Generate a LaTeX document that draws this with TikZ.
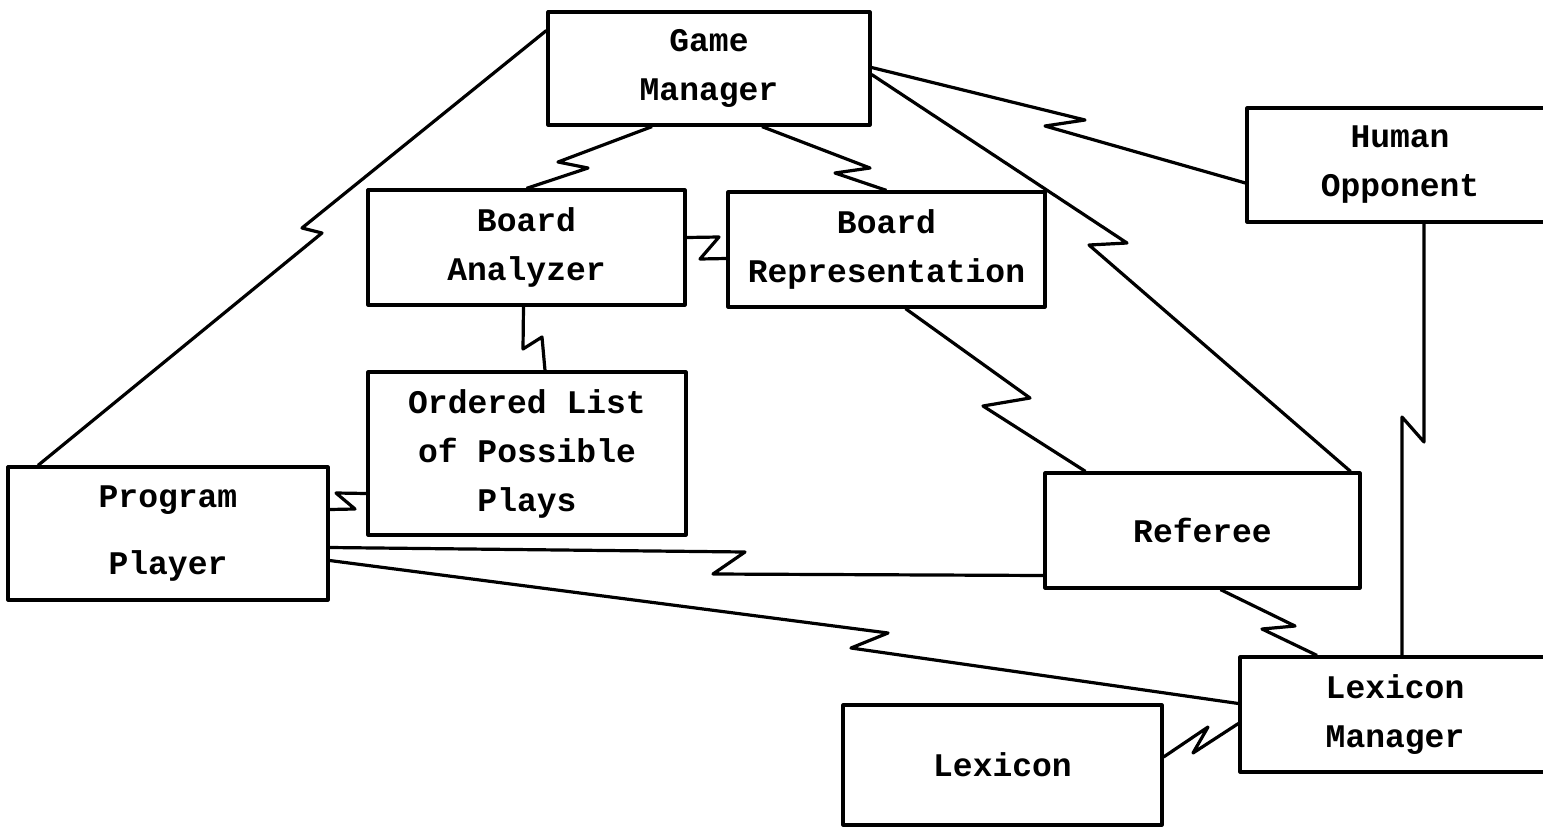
\documentclass[tikz,border=0pt]{standalone}
\usepackage{fontspec}
\newfontfamily\typer{Liberation Mono}
\begin{document}
\begin{tikzpicture}[x=1pt,y=-1pt,line width=3.2pt,line join=round,
		box/.style={draw,align=center,inner sep=0pt,font=\typer\bfseries\fontsize{33}{49}\selectfont}]
			\useasboundingbox (0,0) rectangle (1543,830);
			\node[box,minimum width=322pt,minimum height=113pt] (gm) at (709,68.5) {Game\\Manager};
			\node[box,minimum width=317pt,minimum height=115pt] (ba) at (526.5,247.5) {Board\\Analyzer};
			\node[box,minimum width=317pt,minimum height=115pt] (br) at (886.5,249.5) {Board\\Representation};
			\node[box,minimum width=318pt,minimum height=163pt] (ol) at (527,453.5) {Ordered List\\of Possible\\Plays};
			\node[box,minimum width=320pt,minimum height=133pt] (pp) at (168,533.5) {Program\\[18pt]Player};
			\node[box,minimum width=315pt,minimum height=115pt] (rf) at (1202.5,530.5) {Referee};
			\node[box,minimum width=306pt,minimum height=114pt] (ho) at (1400,165) {Human\\Opponent};
			\node[box,minimum width=310pt,minimum height=115pt] (lm) at (1395,714.5) {Lexicon\\Manager};
			\node[box,minimum width=319pt,minimum height=120pt] (lx) at (1002.5,765) {Lexicon};
			\draw ([xshift=-57pt]gm.south)--(558,162)--(588,168)--(ba.north);
			\draw ([xshift=53pt]gm.south)--(870,168)--(835,173)--(br.north);
			\draw ([yshift=10pt]ba.east)--(719,237)--(700,259)--([yshift=-9pt]br.west);
			\draw ([xshift=-3pt]ba.south)--(523,349)--(542,337)--([xshift=18pt]ol.north);
			\draw ([yshift=24pt]pp.east)--(355,509)--(336,493)--([yshift=-40pt]ol.west);
			\draw ([yshift=38pt]gm.west)--(302,228)--(322,233)--([xshift=-130pt]pp.north);
			\draw ([yshift=1pt]gm.east)--(1085,120)--(1045,126)--([yshift=-18pt]ho.west);
			\draw ([yshift=-6pt]gm.east)--(1127,243)--(1089,245)--([xshift=148pt]rf.north);
			\draw ([xshift=19pt]br.south)--(1030,398)--(983,406)--([xshift=-117pt]rf.north);
			\draw ([yshift=-14pt]pp.east)--(745,552)--(713,574)--([yshift=-45pt]rf.west);
			\draw ([yshift=-27pt]pp.east)--(888,633)--(851,648)--([yshift=11pt]lm.west);
			\draw ([xshift=18pt]rf.south)--(1295,626)--(1262,629)--([xshift=-78pt]lm.north);
			\draw ([yshift=8pt]lx.east)--(1208,727)--(1193,753)--([yshift=-9pt]lm.west);
			\draw ([xshift=24pt]ho.south)--(1424,442)--(1402,417)--([xshift=7pt]lm.north);
		\end{tikzpicture}
\end{document}
